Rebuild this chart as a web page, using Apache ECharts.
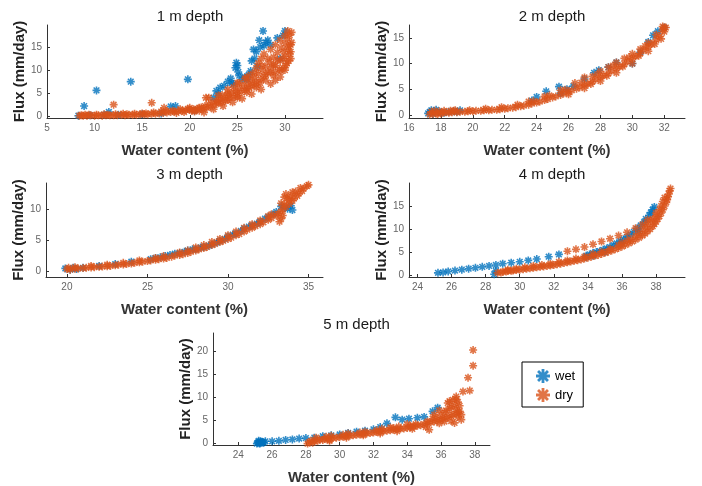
<!DOCTYPE html>
<html>
<head>
<meta charset="utf-8">
<script src="https://cdn.jsdelivr.net/npm/echarts@6/dist/echarts.min.js"></script>
<style>
  body { margin: 0; background: #fff; }
  #main { width: 702px; height: 486px; }
</style>
</head>
<body>
<div id="main"></div>
<script>
// depth titles
const depthTitles = ['1 m depth', '2 m depth', '3 m depth', '4 m depth', '5 m depth'];

// tick labels per panel
const xTicks = [
  [5, 10, 15, 20, 25, 30],
  [16, 18, 20, 22, 24, 26, 28, 30, 32],
  [20, 25, 30, 35],
  [24, 26, 28, 30, 32, 34, 36, 38],
  [24, 26, 28, 30, 32, 34, 36, 38],
];
const yTicks = [
  [0, 5, 10, 15],
  [0, 5, 10, 15],
  [0, 5, 10],
  [0, 5, 10, 15],
  [0, 5, 10, 15, 20],
];
const xRanges = [[5, 34], [16, 33.3], [18.7, 35.9], [23.5, 39.7], [22.5, 38.9]];
const yRanges = [[-0.4, 19.8], [-0.6, 17.5], [-1, 14.3], [-0.4, 20], [-0.3, 24]];

// 1 m
const wet1 = [[8.3,0.1],[8.9,2.2],[9.5,0.2],[10.2,5.6],[11,0.3],[11.5,0.9],[12.5,0.3],[13.8,7.5],[15,0.4],[17,0.6],[18,2.1],[18.5,2.2],[19.8,8.0],[20.5,1.2],[22.5,4.0],[22.8,5.5],[23.2,6.2],[23.6,6.6],[24,7.5],[24.3,8.2],[24.6,7.0],[24.9,11.6],[25,11.0],[25.1,9.6],[25.5,8.0],[25.8,8.5],[26.2,9.0],[26.5,12.0],[26.7,14.5],[27,14.0],[27.1,10.8],[27.3,16.5],[27.7,18.5],[28,16.0],[28.5,15.5],[29.2,17.0],[29.5,12.5],[29.8,17.5],[30,18.5],[26,8],[23,4.8],
  [24.8,10.5],[25.2,8.8],[24.4,7.2],[26.8,12.5],[27.4,15],[28.2,16.5],[26.4,9.8],[27.8,15.3]];
const dry1 = [[8.4,0.1],[8.8,0.1],[9.2,0.1],[9.6,0.2],[10,0.1],[10.4,0.2],[10.8,0.1],[11.2,0.2],[11.6,0.2],[12,0.2],[12.4,0.2],[12.8,0.3],[13.2,0.2],[13.6,0.3],[14,0.3],[14.4,0.3],[14.8,0.4],[15.2,0.4],[15.6,0.4],[16,0.5],[16.4,0.5],[16.8,0.6],[17.2,0.7],[17.6,0.8],[18,0.9],[18.4,1.0],[18.8,1.1],[19.2,1.2],[19.6,1.3],[20,1.4],[20.4,1.5],[20.8,1.6],[21.2,1.9],[21.6,2.2],[22,2.6],[22.4,3.0],[22.8,3.3],[23.2,3.7],[23.6,4.0],[24,4.6],[24.4,5.0],[24.8,5.5],[25.2,6.0],[25.6,6.6],[26,7.2],[26.4,7.8],[26.8,8.4],[27.2,9.2],[27.6,10],[28,10.8],[28.4,11.8],[28.8,12.8],[29.2,13.8],[29.6,14.8],[30,15.8],[30.3,16.8],[30.5,17.6],[30.7,18.2],
  [21.5,0.8],[22.5,1.5],[23.5,2.2],[24.5,3.0],[25.5,3.8],[26.5,4.8],[27.5,5.8],[28.5,7.0],[29,7.8],[29.5,8.5],[30,10],[30.4,12],[30.6,14],[30.7,16],
  [22,4.0],[23,4.5],[24,5.8],[25,7.2],[26,8.5],[27,10.5],[27.5,12.5],[27.8,13.5],[28.5,14.5],[29,15.5],[29.5,16.5],[30,17.5],[30.3,18.5],
  [25,5],[26,6],[27,7.5],[28,9],[29,11],[29.5,12],[30,13],[28.5,9.5],[27.5,8],[26.5,6.5],[24,3.5],[23,2.8],[29.8,10.5],[30.3,14.5],
  [9,0.3],[11,0.4],[13,0.5],[15,0.6],[17,1.0],[17.3,1.8],[19,1.5],[20,1.8],[20.5,1.0],
  [12,2.5],[16,2.9],[21.7,4.0],
  [21,1.2],[21.4,1.5],[21.8,1.8],[22.2,2.0],[22.6,2.4],[23,3.2],[23.4,3.0],[23.8,3.4],[24.2,4.0],[24.6,4.2],[25,4.4],[25.4,5.2],[25.8,5.6],[26.2,6.2],[26.6,7.0],[27,6.8],[27.4,7.2],[27.8,8.6],[28.2,9.6],[28.6,10.6],[29,9.5],[29.4,10.2],[29.8,12.5],[30.2,11.5],[30.5,13.5],[30.6,15.5],[30.4,15.2],[29.9,14],[29.2,12.2],[28.8,11.2],[28.2,12.5],[27.6,11],[27.2,11.5],[26.8,9.5],[26.4,9.0],[25.8,8.2],[25.2,7.2],[24.6,6.3],[24,5],[23.4,4.6],[28,7.8],[28.8,8.8],[29.6,9.8],[30.1,11],[30.6,12.5],[27,6.2],[26,5.2],[25,4.0],
  [8.6,0.2],[9.4,0.3],[10.2,0.3],[11.4,0.3],[12.2,0.4],[13.4,0.4],[14.2,0.5],[15.4,0.6],[16.2,0.8],[17.5,1.1],[18.2,1.2],[18.6,0.7],[19.4,0.9],[19.8,1.6],[20.2,1.2],[20.6,1.3],[21,1.8]];

// 2 m
const wet2 = [[17.2,0.3],[17.4,0.9],[17.7,1.0],[18,0.5],[18.5,0.6],[19,0.6],[19.2,0.9],[23.7,2.8],[24,3.5],[24.6,4.6],[25.4,5.5],[25.5,4.2],[25.9,5.0],[26.3,5.6],[27,7.0],[27.6,8.2],[27.9,8.7],[28.5,9.3],[29,10.2],[30,10.0],[30.5,12.2],[31,14.2],[31.3,15.5],[31.6,16.3],[32,17.0],
  [17.3,0.6],[17.5,0.2],[17.8,0.6],[18.2,0.4],[18.8,0.7]];
const dry2 = [[17.3,0.1],[17.5,0.2],[18,0.3],[18.5,0.4],[19,0.5],[19.5,0.6],[20,0.7],[20.5,0.8],[21,0.9],[21.5,1.0],[22,1.2],[22.5,1.4],[23,1.7],[23.5,2.0],[24,2.4],[24.5,2.9],[25,3.4],[25.5,3.9],[26,4.5],[26.5,5.1],[27,5.8],[27.5,6.5],[28,7.3],[28.5,8.1],[29,9.0],[29.5,9.9],[30,10.9],[30.5,12.0],[31,13.2],[31.5,14.6],[32,16.2],
  [26.4,6.2],[27,7.3],[27.5,7.5],[28,8.5],[28.5,9.3],[29,10.2],[29.5,11],[30,11.9],[30.5,12.8],[31,14],[31.5,15.6],[31.9,17.2],[32.1,17.0],[25.5,4.8],[24.5,3.6],[23.5,2.6],
  [28,6.6],[29,8.2],[30,10],[31,12.4],[31.8,14.8],[26,4],[27,5.2],
  [17.4,0.6],[17.6,0.8],[17.9,0.7],[18.2,0.8],[18.6,0.8],[18.9,0.9],[17.8,0.2],[18.3,0.5],
  [17.7,0.3],[18.1,0.4],[18.7,0.5],[19.2,0.6],[19.7,0.7],[20.2,0.8],[20.7,0.9],[21.2,1.0],[21.7,1.1],[22.2,1.3],[22.7,1.5],[23.2,1.8],[23.7,2.2],[24.2,2.6],[24.7,3.1],[25.2,3.6],[25.7,4.2],[26.2,4.8],[26.7,5.4],[27.2,6.1],[27.7,6.9],[28.2,7.7],[28.7,8.6],[29.2,9.4],[29.7,10.4],[30.2,11.4],[30.7,12.6],[31.2,13.8],[31.7,15.3],[32,17],[31.9,16.5],[30.8,13.4],[29.8,11.2],[28.8,9.6],[27.8,7.9],[26.8,6.3],[25.8,4.9],[24.8,3.8],[23.8,2.7],[22.8,2.0],[21.8,1.5],[20.8,1.2],[19.8,0.9],[18.8,0.8],[31.4,13.8],[30.4,11.5],[29.4,9.4],[28.4,7.6],[27.4,6.0]];

// 3 m
const wet3 = [[19.9,0.4],[20.2,0.2],[20.4,0.5],[20.6,0.3],[21,0.5],[22,0.8],[23,1.1],[24,1.5],[25.2,1.9],[25.8,2.2],[26.4,2.6],[27,2.9],[27.5,3.3],[28,3.5],[28.5,3.9],[29,4.3],[29.5,4.9],[30,5.6],[30.5,6.1],[31,6.9],[31.5,7.4],[32,8.0],[32.5,8.8],[33,9.6],[33.3,10.5],[33.7,10.1],[33.9,10.6],[34,9.9],
  [25.5,2.1],[26.1,2.4],[26.7,2.8],[27.3,3.1],[27.8,3.5],[28.3,3.8],[28.8,4.1],[29.3,4.6],[29.8,5.2],[30.3,5.9],[30.8,6.5],[31.3,7.2],[31.8,7.7],[32.3,8.5],[32.8,9.2],[33.5,10.3]];
const dry3 = [[20,0.3],[20.5,0.35],[21,0.45],[21.5,0.55],[22,0.65],[22.5,0.75],[23,0.9],[23.5,1.05],[24,1.2],[24.5,1.4],[25,1.6],[25.5,1.8],[26,2.0],[26.5,2.3],[27,2.6],[27.5,2.9],[28,3.3],[28.5,3.7],[29,4.2],[29.5,4.7],[30,5.2],[30.5,5.8],[31,6.4],[31.5,7.0],[32,7.6],[32.5,8.3],[33,9.0],[33.3,9.6],[33.6,10.4],[34,11.4],[34.3,12.2],[34.6,13.0],[34.9,13.8],
  [33.2,8],[33.3,11],[33.5,12],[33.8,11.5],[33.4,9],[33.6,12.5],[34,12.8],[34.5,13.5],
  [26,2.4],[27,3.0],[28,3.8],[29,4.7],[30,5.8],[31,7],[32,8.2],[32.7,9.2],
  [20.2,0.2],[20.7,0.4],[21.2,0.5],[21.7,0.6],[22.2,0.7],[22.7,0.8],[23.2,1.0],[23.7,1.1],[24.2,1.3],[24.7,1.5],[25.2,1.7],[25.7,1.9],[26.2,2.1],[26.7,2.5],[27.2,2.7],[27.7,3.1],[28.2,3.5],[28.7,3.9],[29.2,4.4],[29.7,4.9],[30.2,5.4],[30.7,6.0],[31.2,6.7],[31.7,7.3],[32.2,7.9],[32.7,8.6],[33.1,9.3],[33.4,10],[33.8,10.9],[34.1,11.8],[34.4,12.6],[34.7,13.4],[35,14],[33.3,8.5],[33.5,10.8],[33.7,11.8],[33.9,12.2],[34.2,12.9],[27.5,3.3],[28.5,4.2],[29.5,5.2],[30.5,6.4],[31.5,7.6],[32.5,8.9],[25.5,2.1],[24.5,1.7],[23.5,1.3],[22.5,1.0],[21.5,0.8],[20.5,0.6],[20.1,0.5]];

// 4 m
const wet4 = [[25.2,0.5],[25.5,0.6],[25.8,0.8],[26.2,1.0],[26.6,1.2],[27,1.4],[27.4,1.6],[27.8,1.8],[28.2,2.0],[28.6,2.2],[29,2.5],[29.5,2.7],[30,2.9],[30.5,3.2],[31,3.5],[31.7,4.0],[32.3,4.5],[28.5,0.2],[28.6,0.9],
  [33.9,4.2],[34.3,4.8],[34.7,5.2],[35.1,5.8],[35.5,6.5],[35.9,7.4],[36.3,8.3],[36.7,9.4],[37.1,10.8],[37.4,12.2],[37.7,13.6],[37.9,14.8],
  [34.1,4.5],[34.5,5.0],[34.9,5.5],[35.3,6.1],[35.7,6.9],[36.1,7.8],[36.5,8.8],[36.9,10.1],[37.3,11.5],[37.6,13.0],[37.8,14.2],[33.9,3.9],[34.3,4.2],[35,5.0],[36,7],[37,9.5]];
const dry4 = [[32.8,5.2],[33.3,5.6],[33.8,6.1],[34.3,6.7],[34.8,7.3],[35.3,7.9],[35.8,8.6],[36.3,9.3],[36.8,10.2],[37.2,11.0],[37.5,12.0],
  [28.7,0.5],[29,0.7],[29.3,0.9],[29.6,1.0],[30,1.2],[30.4,1.4],[30.8,1.6],[31.2,1.8],[31.6,2.0],[32,2.2],[32.4,2.5],[32.8,2.8],[33.2,3.1],[33.6,3.4],[34,3.8],[34.4,4.2],[34.8,4.6],[35.2,5.1],[35.6,5.6],[36,6.2],[36.4,6.9],[36.8,7.7],[37.2,8.6],[37.5,9.5],[37.8,10.6],[38,11.6],[38.2,12.8],[38.4,14.2],[38.6,15.8],[38.7,17.0],[38.8,18.3],
  [37.5,11],[37.8,12.2],[38,13.5],[38.3,15],[38.5,16.8],[37,9],[36.5,7.8],[36,7],
  [28.9,0.6],[29.2,0.8],[29.5,0.95],[29.8,1.1],[30.2,1.3],[30.6,1.5],[31,1.7],[31.4,1.9],[31.8,2.1],[32.2,2.35],[32.6,2.65],[33,2.95],[33.4,3.25],[33.8,3.6],[34.2,4.0],[34.6,4.4],[35,4.85],[35.4,5.35],[35.8,5.9],[36.2,6.55],[36.6,7.3],[37,8.1],[37.35,9.0],[37.65,10],[37.9,11.1],[38.1,12.2],[38.3,13.5],[38.5,15],[38.65,16.4],[38.75,17.6],[38.85,18.8],[37.2,9.8],[36.8,8.6],[36.3,7.5],[35.8,6.5],[35.3,5.7],[34.8,5.1],[34.3,4.6],[33.8,4.0],[33.3,3.6],[32.8,3.2],[32.3,2.9],[31.8,2.5],[31.3,2.2],[30.8,2.0],[30.3,1.7],[29.8,1.4],[29.3,1.2],[37.7,11.8],[38,12.8],[38.2,14.2],[38.4,16],[37.4,10.5]];

// 5 m
const wet5 = [[25.1,0],[25.2,0.3],[25.3,0.1],[25.4,0.4],[25.5,0.2],[25.2,0.6],[25.6,0.5],[26,0.5],[26.4,0.6],[26.8,0.8],[27.2,0.9],[27.6,1.1],[28,1.2],[28.5,1.3],[29,1.6],[29.5,1.8],[30,2.0],[30.5,2.3],[31,2.6],[31.5,2.8],[32,3.1],[32.4,3.6],[32.8,4.4],[33.3,5.7],[33.7,5.2],[34.1,5.4],[34.6,5.6],[35,5.8],[35.5,7.0],[35.8,7.8],
  [25.15,0.2],[25.3,0.5],[25.45,0.3],[25.25,0.05],[25.35,0.25]];
const dry5 = [[28.1,0],[28.2,0.3],[28.3,0.6],[28.5,0.5],[28.8,0.9],[29,0.8],[29.3,1.1],[29.6,1.2],[30,1.4],[30.4,1.6],[30.8,1.8],[31.2,2.0],[31.6,2.2],[32,2.4],[32.4,2.6],[32.8,2.8],[33.2,3.0],[33.6,3.2],[34,3.4],[34.4,3.7],[34.8,4.0],[35.2,4.4],[35.6,4.8],[36,5.2],[36.3,5.6],[36.6,6.0],[36.9,6.5],[37.1,7.0],
  [28.6,1.3],[29.5,1.7],[30.5,2.2],[31.5,2.6],[32.5,3.2],[33.5,3.7],[34.5,4.2],[35.5,5.4],[36.2,6.8],[36.5,7.5],[36.8,8.3],[37,9.0],[36.4,8.8],[35.9,7.2],[35.6,6.3],[35.3,3.0],[36.8,4.5],[37.2,6.3],
  [37.3,11.3],[37.7,11.5],[37.6,14.3],[37.9,16.9],[37.9,20.3],[36.7,9.5],[36.2,4.8],[34,4.2],[33,3.5],
  [28.4,0.2],[28.7,0.6],[29.1,1.0],[29.4,0.8],[29.8,1.3],[30.2,1.5],[30.6,1.7],[31,1.9],[31.4,2.1],[31.8,2.3],[32.2,2.5],[32.6,2.7],[33,2.9],[33.4,3.1],[33.8,3.3],[34.2,3.6],[34.6,3.9],[35,4.2],[35.4,4.6],[35.8,5.0],[36.1,5.4],[36.4,5.8],[36.7,6.3],[37,6.8],[29.2,1.5],[30.2,1.9],[31.2,2.4],[32.2,2.9],[33.2,3.4],[34.2,3.9],[35.2,4.8],[35.7,5.6],[36,6.2],[36.3,7.2],[36.6,8.0],[36.9,7.5],[37.1,8.2],[36.5,9.2],[36.9,9.6],[37.2,5.2],[36.6,4.9],[35.9,4.4],[35.1,3.6],[34.3,3.2],[33.4,2.7],[32.4,2.2],[31.4,1.8],[30.4,1.3],[29.4,0.6],[36.9,10.2],[37.0,5.8]];

const wetSets = [wet1, wet2, wet3, wet4, wet5];
const drySets = [dry1, dry2, dry3, dry4, dry5];

// panel boxes (px)
const boxes = [
  { left: 47, top: 25, width: 276, height: 93 },
  { left: 409, top: 25, width: 276, height: 93 },
  { left: 46, top: 183, width: 277, height: 94 },
  { left: 409, top: 183, width: 276, height: 94 },
  { left: 213, top: 333, width: 277, height: 112 },
];

// asterisk marker, chunky arms
const star = 'path://M-2,-10L2,-10L2,10L-2,10Z M-10,-2L10,-2L10,2L-10,2Z M-5.66,-8.49L8.49,5.66L5.66,8.49L-8.49,-5.66Z M-8.49,5.66L5.66,-8.49L8.49,-5.66L-5.66,8.49Z';
const blue = '#0072BD';
const orange = '#D95319';
const font = 'Liberation Sans, Arial, sans-serif';

const option = {
  animation: false,
  backgroundColor: '#fff',
  title: depthTitles.map((t, i) => ({
    text: t,
    left: boxes[i].left + boxes[i].width / 2,
    top: boxes[i].top - 21,
    textAlign: 'center',
    textStyle: { fontFamily: font, fontSize: 15, fontWeight: 'normal', color: '#1a1a1a' },
  })),
  legend: {
    data: ['wet', 'dry'],
    orient: 'vertical',
    left: 522,
    top: 362,
    padding: [7, 8, 5, 14],
    itemGap: 5,
    itemWidth: 14,
    itemHeight: 14,
    icon: star,
    borderColor: '#000',
    borderWidth: 1,
    textStyle: { fontFamily: font, fontSize: 13, color: '#000' },
  },
  grid: boxes.map(b => ({ ...b, containLabel: false })),
  xAxis: boxes.map((b, i) => ({
    type: 'value',
    gridIndex: i,
    min: xRanges[i][0],
    max: xRanges[i][1],
    name: 'Water content (%)',
    nameLocation: 'middle',
    nameGap: 25,
    nameTextStyle: { fontFamily: font, fontSize: 15, fontWeight: 'bold', color: '#333' },
    axisLine: { onZero: false, lineStyle: { color: '#333', width: 1 } },
    axisTick: { inside: true, length: 3, customValues: xTicks[i], lineStyle: { color: '#333' } },
    axisLabel: { customValues: xTicks[i], fontFamily: font, fontSize: 10, color: '#666', margin: 5 },
    splitLine: { show: false },
  })),
  yAxis: boxes.map((b, i) => ({
    type: 'value',
    gridIndex: i,
    min: yRanges[i][0],
    max: yRanges[i][1],
    name: 'Flux (mm/day)',
    nameLocation: 'middle',
    nameGap: 18,
    nameTextStyle: { fontFamily: font, fontSize: 15, fontWeight: 'bold', color: '#222' },
    axisLine: { onZero: false, lineStyle: { color: '#333', width: 1 } },
    axisTick: { inside: true, length: 3, customValues: yTicks[i], lineStyle: { color: '#333' } },
    axisLabel: { customValues: yTicks[i], fontFamily: font, fontSize: 10, color: '#666', margin: 5 },
    splitLine: { show: false },
  })),
  series: [],
};

for (let i = 0; i < 5; i++) {
  option.series.push({
    name: 'wet', type: 'scatter', xAxisIndex: i, yAxisIndex: i,
    symbol: star, symbolSize: 8, itemStyle: { color: blue }, data: wetSets[i],
  });
  option.series.push({
    name: 'dry', type: 'scatter', xAxisIndex: i, yAxisIndex: i,
    symbol: star, symbolSize: 8, itemStyle: { color: orange }, data: drySets[i],
  });
}

const chart = echarts.init(document.getElementById('main'));
chart.setOption(option);
</script>
</body>
</html>
